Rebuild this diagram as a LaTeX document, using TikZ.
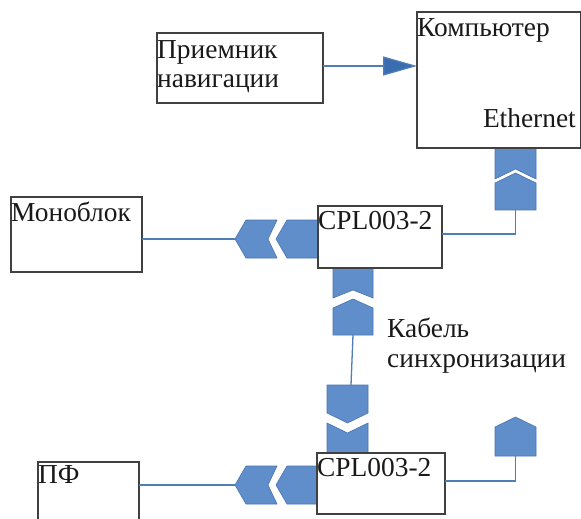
\documentclass[tikz,border=0pt]{standalone}
\usepackage{fontspec}
\setmainfont{Liberation Serif}
\usetikzlibrary{arrows.meta}

\definecolor{boxline}{RGB}{64,64,64}
\definecolor{wire}{RGB}{79,125,182}
\definecolor{plugfill}{RGB}{96,142,203}
\definecolor{plugedge}{RGB}{74,116,176}
\definecolor{arrowblue}{RGB}{58,108,178}
\definecolor{ink}{RGB}{25,25,25}

\tikzset{
  unit/.style={draw=boxline, line width=1.4bp, fill=white, inner sep=0pt, outer sep=0pt, anchor=north west},
  lbl/.style={inner sep=0pt, anchor=base west, text=ink, font=\fontsize{27.5}{30}\selectfont, align=left},
  wireline/.style={draw=wire, line width=1.3bp},
  plug/.style={fill=plugfill, draw=plugedge, line width=0.6bp, line join=miter},
}

\begin{document}
\begin{tikzpicture}[x=1bp, y=-1bp]
\useasboundingbox (0,0) rectangle (581,519);
\clip (0,0) rectangle (581,519);

% plug halves, drawn before the units so the unit frames cover their ends
% Ethernet link under the computer
\draw[plug] (495,148) -- (536,148) -- (536,179) -- (515.5,169) -- (495,179) -- cycle;
\draw[plug] (495,183) -- (515.5,173) -- (536,183) -- (536,210) -- (495,210) -- cycle;
% sync cable, upper CPL side
\draw[plug] (333,268) -- (373,268) -- (373,298) -- (353,290) -- (333,298) -- cycle;
\draw[plug] (333,308) -- (353,299) -- (373,308) -- (373,335) -- (333,335) -- cycle;
% sync cable, lower CPL side
\draw[plug] (327,385) -- (368,385) -- (368,413) -- (347.5,423) -- (327,413) -- cycle;
\draw[plug] (327,423) -- (347.5,433) -- (368,423) -- (368,453) -- (327,453) -- cycle;
% spare port of the lower CPL
\draw[plug] (495,427) -- (515.5,417) -- (536,427) -- (536,456) -- (495,456) -- cycle;
% side plugs of both CPL units
\foreach \dy in {0,246} {
  \begin{scope}[shift={(0,\dy)}]
    \draw[plug] (235,239) -- (246,220) -- (277,220) -- (268,239) -- (277,258) -- (246,258) -- cycle;
    \draw[plug] (276,239) -- (287,220) -- (318,220) -- (318,258) -- (287,258) -- cycle;
  \end{scope}
}

% units
\node[unit, minimum width=166bp, minimum height=70bp]  (nav)  at (157,33)  {};
\node[unit, minimum width=164bp, minimum height=136bp] (comp) at (417,12)  {};
\node[unit, minimum width=131bp, minimum height=75bp]  (mono) at (11,197)  {};
\node[unit, minimum width=124bp, minimum height=62bp]  (cpl1) at (318,206) {};
\node[unit, minimum width=128bp, minimum height=61bp]  (cpl2) at (317,453) {};
\node[unit, minimum width=101bp, minimum height=80bp]  (pf)   at (38,462)  {};

% wiring points
\coordinate (arr)   at (0,66);
\coordinate (ethA)  at (515.5,210);
\coordinate (ethB)  at (515.5,234);
\coordinate (syncA) at (353,335);
\coordinate (syncB) at (351,385);
\coordinate (monoT) at (235,239);
\coordinate (pfT)   at (235,485);
\coordinate (spA)   at (515.5,456);
\coordinate (spB)   at (515.5,481);

% connections
\draw[wireline, -{Triangle[length=34bp, width=19bp, fill=arrowblue]}]
  (nav.east |- arr) -- (comp.west |- arr);
\draw[wireline] (ethA) -- (ethB) -- (cpl1.east |- ethB);
\draw[wireline] (syncA) -- (syncB);
\draw[wireline] (mono.east |- monoT) -- (monoT);
\draw[wireline] (pf.east |- pfT) -- (pfT);
\draw[wireline] (spA) -- (spB) -- (cpl2.east |- spB);

% labels (two-line labels are placed by the baseline of their last line)
\node[lbl] (navT)   at (157,88)  {Приемник\\навигации};
\node[lbl] (compT)  at (417,37)  {Компьютер};
\node[lbl, anchor=base east] (ethT) at (576,128) {Ethernet};
\node[lbl] (monoL)  at (11,222)  {Моноблок};
\node[lbl] (cpl1T)  at (318,230) {CPL003-2};
\node[lbl] (syncT)  at (387,367) {Кабель\\синхронизации};
\node[lbl] (cpl2T)  at (317,476) {CPL003-2};
\node[lbl] (pfT2)   at (38,483)  {ПФ};
\end{tikzpicture}
\end{document}
